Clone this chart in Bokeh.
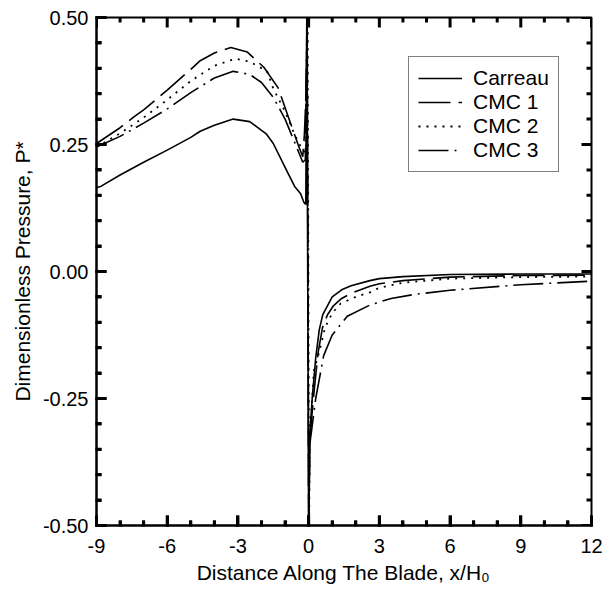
from bokeh.plotting import figure
from bokeh.models import Range1d, SingleIntervalTicker, NumeralTickFormatter, Legend, LegendItem
from bokeh.embed import file_html
from bokeh.resources import INLINE

# ---- data ----
carreau_x = [-9, -8.8, -8, -7, -6, -5, -4.6, -4, -3.2, -2.5, -1.8, -1.5, -1.0, -0.6, -0.34, -0.2, -0.12,
             -0.08, 0.0, 0.05, 0.15, 0.3, 0.45, 0.6, 1.0, 1.4, 1.8, 2.6, 3, 4, 6, 9, 12]
carreau_y = [0.165, 0.168, 0.19, 0.215, 0.239, 0.264, 0.276, 0.288, 0.300, 0.295, 0.271, 0.252, 0.205, 0.168,
             0.153, 0.136, 0.132,
             0.5, -0.5, -0.32, -0.25, -0.17, -0.115, -0.085, -0.05, -0.036, -0.028, -0.018, -0.014, -0.010,
             -0.006, -0.005, -0.005]

cmc1_x = [-9, -8, -7.4, -7, -6, -5, -4.6, -4, -3.3, -2.6, -1.9, -1.3, -0.76, -0.45, -0.25, -0.18, -0.12,
          -0.06, 0.0, 0.05, 0.2, 0.4, 0.59, 0.8, 1.06, 1.4, 1.8, 2.6, 3, 4, 6, 9, 12]
cmc1_y = [0.252, 0.283, 0.305, 0.318, 0.357, 0.398, 0.415, 0.430, 0.441, 0.432, 0.402, 0.362, 0.291, 0.25,
          0.226, 0.27, 0.34,
          0.5, -0.5, -0.33, -0.25, -0.16, -0.11, -0.085, -0.067, -0.053, -0.043, -0.029, -0.024, -0.018,
          -0.011, -0.008, -0.007]

cmc2_x = [-9, -8, -7, -6, -5, -4, -3.1, -2.5, -1.76, -1.5, -1.0, -0.6, -0.25, -0.12,
          -0.04, 0.02, 0.05, 0.22, 0.44, 0.7, 1.0, 1.36, 2.0, 2.6, 3, 4, 6, 9, 12]
cmc2_y = [0.245, 0.272, 0.303, 0.338, 0.375, 0.405, 0.419, 0.413, 0.394, 0.36, 0.315, 0.27, 0.238, 0.235,
          0.5, -0.5, -0.33, -0.195, -0.16, -0.11, -0.082, -0.063, -0.05, -0.041, -0.032, -0.022,
          -0.014, -0.011, -0.010]

cmc3_x = [-9, -8, -7, -6, -5, -4, -3.2, -2.5, -2, -1.5, -1.0, -0.6, -0.25, -0.14,
          -0.07, 0.01, 0.05, 0.3, 0.64, 1.0, 1.64, 2.6, 3.5, 4.5, 6, 9, 12]
cmc3_y = [0.245, 0.266, 0.292, 0.320, 0.352, 0.381, 0.394, 0.388, 0.372, 0.343, 0.300, 0.255, 0.215, 0.22,
          0.5, -0.5, -0.34, -0.25, -0.165, -0.125, -0.088, -0.066, -0.053, -0.045, -0.037, -0.026, -0.019]

x_ticks = [-9, -6, -3, 0, 3, 6, 9, 12]
x_minor = [v for v in range(-9, 13) if v not in x_ticks]
y_ticks = [-0.5, -0.25, 0.0, 0.25, 0.5]
y_minor = [round(-0.5 + 0.05 * i, 2) for i in range(21)]
y_minor = [v for v in y_minor if v not in y_ticks]

X0, X1 = -9, 12
Y0, Y1 = -0.5, 0.5

FONT = "Liberation Sans"
W, H = 612, 594
BL, BR, BT, BB = 96, 21, 17, 69
FW, FH = W - BL - BR, H - BT - BB          # frame size in pixels
DX = (X1 - X0) / FW                          # data units per pixel
DY = (Y1 - Y0) / FH
MAJ, MIN = 10, 5

p = figure(width=W, height=H, output_backend="svg", toolbar_location=None,
           x_range=Range1d(X0, X1), y_range=Range1d(Y0, Y1),
           min_border_left=BL, min_border_right=BR, min_border_top=BT, min_border_bottom=BB)
p.grid.visible = False
p.outline_line_color = "black"
p.outline_line_width = 2

# inward ticks on all four edges (drawn first, as plain solid segments)
xt = x_ticks + x_minor
xl = [(MAJ if t in x_ticks else MIN) * DY for t in xt]
yt = y_ticks + y_minor
yl = [(MAJ if t in y_ticks else MIN) * DX for t in yt]
p.segment(x0=xt + xt, y0=[Y0] * len(xt) + [Y1] * len(xt),
          x1=xt + xt, y1=[Y0 + L for L in xl] + [Y1 - L for L in xl],
          line_color="black", line_width=3)
p.segment(x0=[X0] * len(yt) + [X1] * len(yt), y0=yt + yt,
          x1=[X0 + L for L in yl] + [X1 - L for L in yl], y1=yt + yt,
          line_color="black", line_width=3)

r0 = p.line(carreau_x, carreau_y, line_color="black", line_width=1.6)
r1 = p.line(cmc1_x, cmc1_y, line_color="black", line_width=1.6, line_dash="32 8")
r2 = p.line(cmc2_x, cmc2_y, line_color="black", line_width=1.8, line_dash="2 6")
r3 = p.line(cmc3_x, cmc3_y, line_color="black", line_width=1.6, line_dash="30 6 2 6")


def style_axis(ax, interval, n_minor):
    ax.ticker = SingleIntervalTicker(interval=interval, num_minor_ticks=n_minor)
    ax.axis_line_color = "black"
    ax.axis_line_width = 2
    ax.major_tick_in = MAJ
    ax.major_tick_out = 1
    ax.minor_tick_in = MIN
    ax.minor_tick_out = 1
    ax.major_tick_line_color = "black"
    ax.minor_tick_line_color = "black"
    ax.major_tick_line_width = 3
    ax.minor_tick_line_width = 3
    ax.major_label_text_font = FONT
    ax.major_label_text_color = "black"
    ax.axis_label_text_font = FONT
    ax.axis_label_text_font_style = "normal"
    ax.axis_label_text_color = "black"


xa = p.xaxis[0]
style_axis(xa, 3, 3)
xa.formatter = NumeralTickFormatter(format="0")
xa.major_label_text_font_size = "20px"
xa.major_label_standoff = 12
xa.axis_label = "Distance Along The Blade, x/H\u2080"
xa.axis_label_text_font_size = "21px"
xa.axis_label_standoff = 5

ya = p.yaxis[0]
style_axis(ya, 0.25, 5)
ya.formatter = NumeralTickFormatter(format="0.00")
ya.major_label_text_font_size = "20px"
ya.major_label_standoff = 7
ya.axis_label = "Dimensionless Pressure, P*"
ya.axis_label_text_font_size = "21px"
ya.axis_label_standoff = 6

legend = Legend(items=[LegendItem(label="Carreau", renderers=[r0]),
                       LegendItem(label="CMC 1", renderers=[r1]),
                       LegendItem(label="CMC 2", renderers=[r2]),
                       LegendItem(label="CMC 3", renderers=[r3])],
                location=(312, 353))
legend.label_text_font = FONT
legend.label_text_font_size = "21px"
legend.label_text_color = "black"
legend.glyph_width = 44
legend.glyph_height = 20
legend.label_height = 20
legend.label_standoff = 11
legend.spacing = 0
legend.padding = 9
legend.margin = 0
legend.border_line_color = "black"
legend.border_line_width = 1.2
legend.background_fill_color = "white"
legend.background_fill_alpha = 1
p.add_layout(legend, "center")

open("out.html", "w").write(file_html(p, INLINE))
